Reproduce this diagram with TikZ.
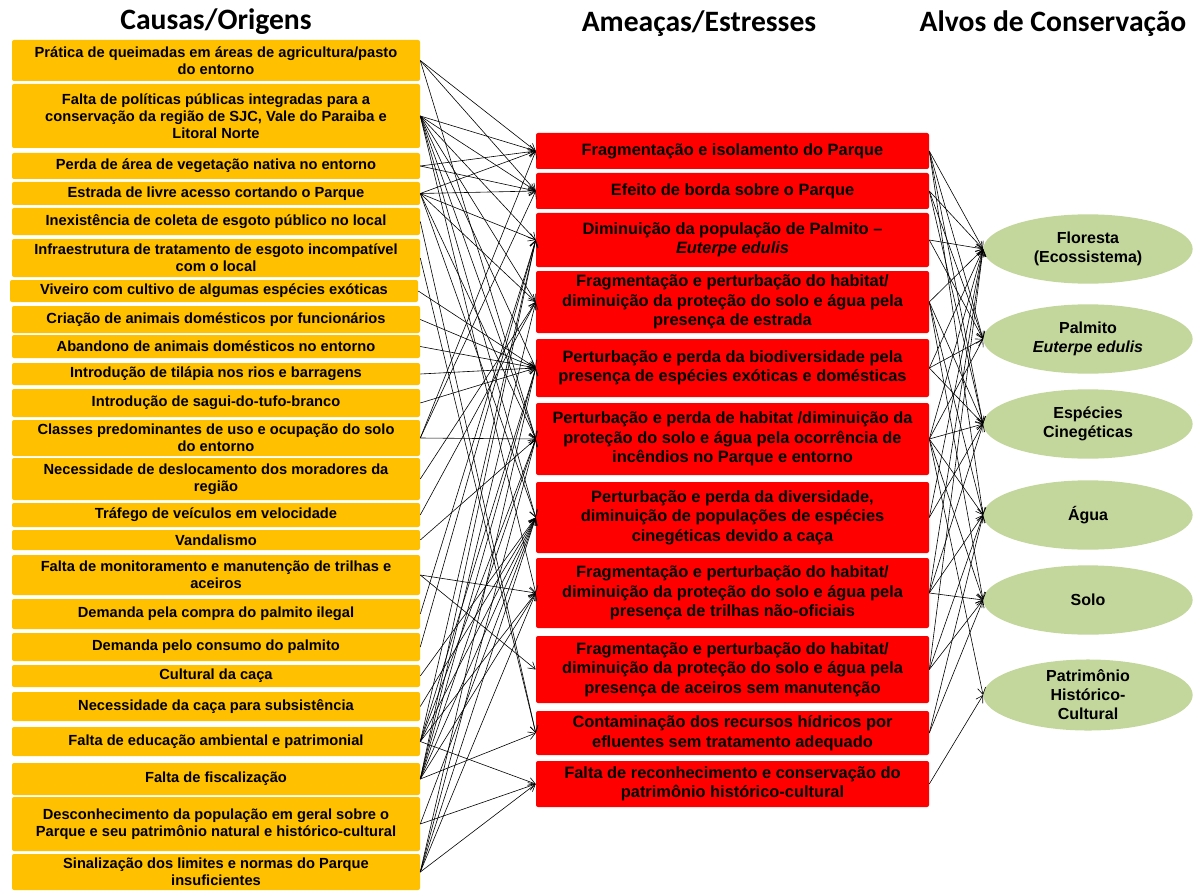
\documentclass[tikz,border=0pt]{standalone}
\usepackage{fontspec}
\setmainfont{Liberation Sans}
\newfontfamily\titlefont{Carlito}
\usepackage{xcolor}
\usepackage{tikz}
\usetikzlibrary{arrows.meta, shapes.geometric}
\definecolor{myorange}{RGB}{255, 192, 0}
\definecolor{myred}{RGB}{255, 0, 0}
\definecolor{mygreen}{RGB}{195, 214, 155}

\begin{document}
\begin{tikzpicture}[x=0.75pt, y=-0.75pt,
    causa/.style={fill=myorange, rounded corners=1.5pt, minimum width=306pt, inner sep=1pt, align=center, font=\bfseries\fontsize{11}{12.75}\selectfont},
    ameaca/.style={fill=myred, rounded corners=1.5pt, minimum width=294.75pt, inner sep=1pt, align=center, font=\bfseries\fontsize{12.3}{14.6}\selectfont},
    alvo/.style={ellipse, fill=mygreen, minimum width=157pt, minimum height=52pt, inner sep=0pt, align=center, font=\bfseries\fontsize{12}{14.3}\selectfont},
    titulo/.style={font=\titlefont\bfseries\fontsize{22.2}{24}\selectfont},
    seta/.style={-{Straight Barb[length=5pt, width=6pt]}, line width=0.45pt}]
    \useasboundingbox (0,0) rectangle (1194,891);

    % 标题
    \node[titulo] (h1) at (216,22) {Causas/Origens};
    \node[titulo] (h2) at (699,24) {Ameaças/Estresses};
    \node[titulo] (h3) at (1053,24) {Alvos de Conservação};

    % 原因
    \node[causa, minimum height=30.75pt] (c1) at (216,60.5) {Prática de queimadas em áreas de agricultura/pasto\\do entorno};
    \node[causa, minimum height=48pt] (c2) at (216,116) {Falta de políticas públicas integradas para a\\conservação da região de SJC, Vale do Paraiba e\\Litoral Norte};
    \node[causa, minimum height=19.5pt] (c3) at (216,166) {Perda de área de vegetação nativa no entorno};
    \node[causa, minimum height=17.25pt] (c4) at (216,193.5) {Estrada de livre acesso cortando o Parque};
    \node[causa, minimum height=20.25pt] (c5) at (216,221.5) {Inexistência de coleta de esgoto público no local};
    \node[causa, minimum height=28.5pt] (c6) at (216,258) {Infraestrutura de tratamento de esgoto incompatível\\com o local};
    \node[causa, minimum height=16.5pt] (c7) at (214,291) {Viveiro com cultivo de algumas espécies exóticas};
    \node[causa, minimum height=20.25pt] (c8) at (216,319.5) {Criação de animais domésticos por funcionários};
    \node[causa, minimum height=17.25pt] (c9) at (216,346.5) {Abandono de animais domésticos no entorno};
    \node[causa, minimum height=16.5pt] (c10) at (216,374) {Introdução de tilápia nos rios e barragens};
    \node[causa, minimum height=21pt] (c11) at (216,403) {Introdução de sagui-do-tufo-branco};
    \node[causa, minimum height=27pt] (c12) at (216,438) {Classes predominantes de uso e ocupação do solo\\do entorno};
    \node[causa, minimum height=31.5pt] (c13) at (216,479) {Necessidade de deslocamento dos moradores da\\região};
    \node[causa, minimum height=18pt] (c14) at (216,515) {Tráfego de veículos em velocidade};
    \node[causa, minimum height=15pt] (c15) at (216,540) {Vandalismo};
    \node[causa, minimum height=30pt] (c16) at (216,575) {Falta de monitoramento e manutenção de trilhas e\\aceiros};
    \node[causa, minimum height=22.5pt] (c17) at (216,614) {Demanda pela compra do palmito ilegal};
    \node[causa, minimum height=21pt] (c18) at (216,647) {Demanda pelo consumo do palmito};
    \node[causa, minimum height=16.5pt] (c19) at (216,676) {Cultural da caça};
    \node[causa, minimum height=21.75pt] (c20) at (216,706.5) {Necessidade da caça para subsistência};
    \node[causa, minimum height=21.75pt] (c21) at (216,741.5) {Falta de educação ambiental e patrimonial};
    \node[causa, minimum height=24pt] (c22) at (216,779) {Falta de fiscalização};
    \node[causa, minimum height=40.5pt] (c23) at (216,824) {Desconhecimento da população em geral sobre o\\Parque e seu patrimônio natural e histórico-cultural};
    \node[causa, minimum height=27pt] (c24) at (216,872) {Sinalização dos limites e normas do Parque\\insuficientes};

    % 威胁
    \node[ameaca, minimum height=27pt] (a1) at (732.5,151) {Fragmentação e isolamento do Parque};
    \node[ameaca, minimum height=27pt] (a2) at (732.5,191) {Efeito de borda sobre o Parque};
    \node[ameaca, minimum height=40.5pt] (a3) at (732.5,240) {Diminuição da população de Palmito –\\\textit{Euterpe edulis}};
    \node[ameaca, minimum height=46.5pt] (a4) at (732.5,302) {Fragmentação e perturbação do habitat/\\diminuição da proteção do solo e água pela\\presença de estrada};
    \node[ameaca, minimum height=43.5pt] (a5) at (732.5,368) {Perturbação e perda da biodiversidade pela\\presença de espécies exóticas e domésticas};
    \node[ameaca, minimum height=54pt] (a6) at (732.5,439) {Perturbação e perda de habitat /diminuição da\\proteção do solo e água pela ocorrência de\\incêndios no Parque e entorno};
    \node[ameaca, minimum height=53.25pt] (a7) at (732.5,517.5) {Perturbação e perda da diversidade,\\diminuição de populações de espécies\\cinegéticas devido a caça};
    \node[ameaca, minimum height=52.5pt] (a8) at (732.5,593) {Fragmentação e perturbação do habitat/\\diminuição da proteção do solo e água pela\\presença de trilhas não-oficiais};
    \node[ameaca, minimum height=50.25pt] (a9) at (732.5,669.5) {Fragmentação e perturbação do habitat/\\diminuição da proteção do solo e água pela\\presença de aceiros sem manutenção};
    \node[ameaca, minimum height=33pt] (a10) at (732.5,733) {Contaminação dos recursos hídricos por\\efluentes sem tratamento adequado};
    \node[ameaca, minimum height=34.5pt] (a11) at (732.5,784) {Falta de reconhecimento e conservação do\\patrimônio histórico-cultural};

    % 目标
    \node[alvo] (v1) at (1088,249) {Floresta\\(Ecossistema)};
    \node[alvo] (v2) at (1088,339) {Palmito\\\textit{Euterpe edulis}};
    \node[alvo] (v3) at (1088,424) {Espécies\\Cinegéticas};
    \node[alvo] (v4) at (1088,515) {Água};
    \node[alvo] (v5) at (1088,600) {Solo};
    \node[alvo] (v6) at (1088,695) {Patrimônio\\Histórico-\\Cultural};

    % 连线
    \foreach \s/\t in {c1/a1, c1/a2, c1/a6,
        c2/a1, c2/a2, c2/a3, c2/a4, c2/a5, c2/a6, c2/a7, c2/a8,
        c3/a1, c3/a2,
        c4/a1, c4/a2, c4/a3, c4/a4, c4/a6, c4/a7,
        c5/a10, c6/a10,
        c7/a5, c8/a5, c9/a5, c10/a5, c11/a5,
        c12/a1, c12/a2, c12/a6,
        c13/a4, c14/a4, c15/a6,
        c16/a8, c16/a9,
        c17/a3, c18/a3, c19/a7, c20/a7,
        c21/a3, c21/a5, c21/a6, c21/a7, c21/a8, c21/a11,
        c22/a3, c22/a4, c22/a5, c22/a6, c22/a7, c22/a8, c22/a10,
        c23/a7, c23/a11,
        c24/a5, c24/a6, c24/a7, c24/a8, c24/a11}
        \draw[seta] (\s.east) -- (\t.west);
    \foreach \s/\t in {a1/v1, a1/v2, a1/v3, a1/v4,
        a2/v1, a2/v2, a2/v3,
        a3/v1, a3/v2,
        a4/v1, a4/v3, a4/v4, a4/v5,
        a5/v1, a5/v2, a5/v3,
        a6/v1, a6/v2, a6/v3, a6/v4, a6/v5, a6/v6,
        a7/v1, a7/v3,
        a8/v1, a8/v3, a8/v4, a8/v5,
        a9/v1, a9/v4, a9/v5,
        a10/v4, a10/v5,
        a11/v6}
        \draw[seta] (\s.east) -- (\t.west);
\end{tikzpicture}
\end{document}
